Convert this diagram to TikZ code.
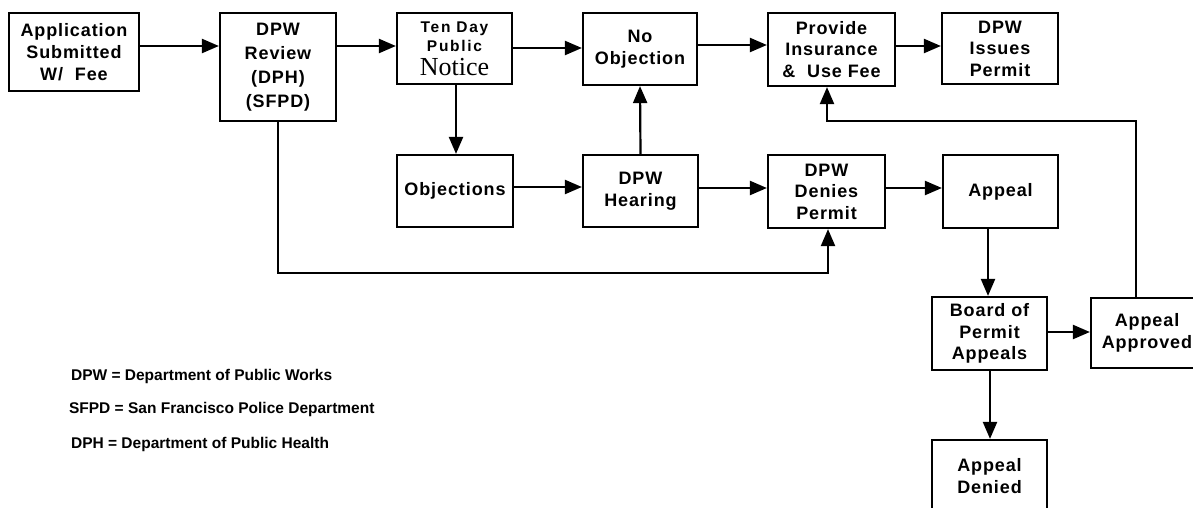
\documentclass[tikz,border=0pt]{standalone}
\usepackage{fontspec}
\setmainfont{Liberation Sans}
\newfontfamily\boxfont[LetterSpace=5]{Liberation Sans Bold}
\newfontfamily\widefont[LetterSpace=11]{Liberation Sans Bold}
\newfontfamily\legfont{Liberation Sans Bold}
\newfontfamily\notfont{Liberation Serif}
\usetikzlibrary{arrows.meta}
\begin{document}
\begin{tikzpicture}[x=1pt,y=-1pt, line width=2.2pt,
  bx/.style={draw, line width=2.2pt, inner sep=0pt, align=center,
    font=\boxfont\fontsize{18}{21.5}\selectfont},
  arr/.style={-{Triangle[length=17pt,width=14pt]}, line width=2.2pt},
  leg/.style={anchor=west, inner sep=0pt, font=\legfont\fontsize{15.5}{18}\selectfont}]
\clip (0,0) rectangle (1193,508);
\fill[white] (0,0) rectangle (1193,508);
% boxes
\node[bx, minimum width=130pt, minimum height=78pt, font=\boxfont\fontsize{18}{22}\selectfont] (app) at (74,52) {Application\\Submitted\\W/\ \ Fee};
\node[bx, minimum width=116pt, minimum height=108pt, font=\boxfont\fontsize{18}{24}\selectfont] (rev) at (278,67) {DPW\\Review\\(DPH)\\(SFPD)};
\node[bx, minimum width=115pt, minimum height=71pt, font=\widefont\fontsize{15.5}{19}\selectfont] (ten) at (454.5,48.5) {Ten Day\\Public\\[5pt]{\notfont\fontsize{26}{24}\selectfont Notice}};
\node[bx, minimum width=114pt, minimum height=72pt] (noobj) at (640,49) {No\\Objection};
\node[bx, minimum width=127pt, minimum height=73pt] (prov) at (831.5,49.5) {Provide\\Insurance\\\&\ \ Use Fee};
\node[bx, minimum width=116pt, minimum height=71pt] (issue) at (1000,48.5) {DPW\\Issues\\Permit};
\node[bx, minimum width=116pt, minimum height=72pt] (obj) at (455,191) {Objections};
\node[bx, minimum width=115pt, minimum height=72pt] (hear) at (640.5,191) {DPW\\Hearing};
\node[bx, minimum width=117pt, minimum height=73pt] (deny) at (826.5,191.5) {DPW\\Denies\\Permit};
\node[bx, minimum width=115pt, minimum height=73pt] (appeal) at (1000.5,191.5) {Appeal};
\node[bx, minimum width=115pt, minimum height=73pt] (board) at (989.5,333.5) {Board of\\Permit\\Appeals};
\node[bx, minimum width=112pt, minimum height=70pt] (appr) at (1147,333) {Appeal\\Approved};
\node[bx, minimum width=115pt, minimum height=72pt] (den) at (989.5,476) {Appeal\\Denied};
% top row arrows
\draw[arr] (app.east |- 0,46) -- (rev.west |- 0,46);
\draw[arr] (rev.east |- 0,46) -- (ten.west |- 0,46);
\draw[arr] (ten.east |- 0,48) -- (noobj.west |- 0,48);
\draw[arr] (noobj.east |- 0,45) -- (prov.west |- 0,45);
\draw[arr] (prov.east |- 0,46) -- (issue.west |- 0,46);
% middle
\draw[arr] (ten.south -| 456,0) -- (obj.north -| 456,0);
\draw[arr] (obj.east |- 0,187) -- (hear.west |- 0,187);
\draw[arr] (hear.north) -- (noobj.south);
\draw[arr] (hear.east |- 0,188) -- (deny.west |- 0,188);
\draw[arr] (deny.east |- 0,188) -- (appeal.west |- 0,188);
% review bypass
\coordinate (b1) at (278,273);
\coordinate (b2) at (828,273);
\draw[arr] (rev.south) -- (b1) -- (b2) -- (deny.south -| b2);
% appeals
\draw[arr] (appeal.south -| 988,0) -- (board.north -| 988,0);
\draw[arr] (board.east |- 0,332) -- (appr.west |- 0,332);
\draw[arr] (board.south -| 990,0) -- (den.north -| 990,0);
% approved return
\coordinate (r1) at (1136,121);
\coordinate (r2) at (827,121);
\draw[arr] (appr.north -| r1) -- (r1) -- (r2) -- (prov.south -| r2);
% legend
\node[leg] (l1) at (70,376) {DPW = Department of Public Works};
\node[leg] (l2) at (68,409) {SFPD = San Francisco Police Department};
\node[leg] (l3) at (70,444) {DPH = Department of Public Health};
\end{tikzpicture}
\end{document}
